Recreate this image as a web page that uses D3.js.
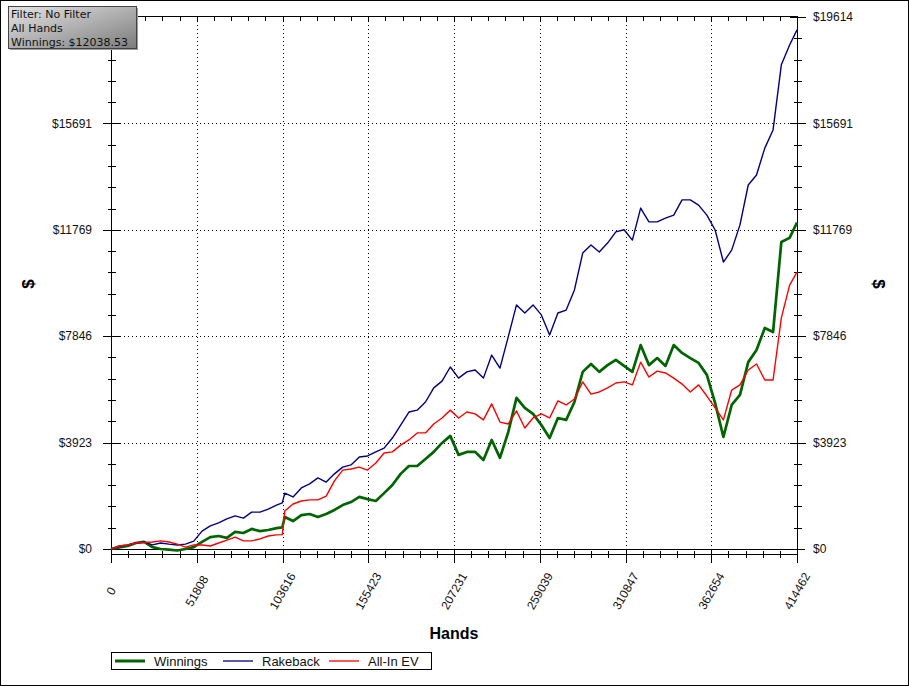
<!DOCTYPE html>
<html><head><meta charset="utf-8">
<script src="https://cdn.jsdelivr.net/npm/d3@7"></script>
<style>
html,body{margin:0;padding:0;background:#fff;}
svg{display:block;}
</style></head>
<body>
<svg id="chart" width="909" height="686"></svg>
<script>
// ---- data ----
const hands = [0,5000,10000,15000,20000,25000,30000,35000,40000,45000,
  50000,55000,60000,65000,70000,75000,80000,85000,90000,95000,
  100000,103500,105000,110000,115000,120000,125000,130000,135000,140000,145000,
  150000,155000,160000,165000,170000,175000,180000,185000,190000,195000,
  200000,205000,210000,215000,220000,225000,230000,235000,240000,245000,
  250000,255000,260000,265000,270000,275000,280000,285000,290000,295000,
  300000,305000,310000,315000,320000,325000,330000,335000,340000,345000,
  350000,355000,360000,365000,370000,375000,380000,385000,390000,395000,
  400000,405000,410000,414462];
const winnings = [0,55,110,220,260,70,0,-20,-55,0,
  70,260,440,480,410,630,590,740,660,700,
  770,800,1180,1030,1250,1290,1180,1290,1440,1620,1730,
  1920,1840,1770,2060,2360,2770,3060,3060,3320,3580,
  3910,4170,3470,3580,3580,3280,4020,3360,4310,5570,
  5200,4980,4570,4090,4830,4760,5420,6530,6820,6530,
  6780,6970,6750,6530,7520,6780,7040,6750,7520,7230,
  7040,6860,6420,5380,4130,5310,5680,6890,7340,8150,
  8000,11320,11470,12038.53];
const rakeback = [0,110,150,220,260,150,220,180,150,180,
  290,660,850,960,1110,1220,1140,1360,1360,1470,
  1620,1700,2060,1920,2250,2400,2620,2470,2770,3020,3100,
  3390,3430,3580,3720,4090,4570,5050,5120,5420,5940,
  6190,6710,6300,6530,6600,6300,7150,6670,7820,9000,
  8700,9000,8630,7890,8700,8810,9550,10910,11210,10950,
  11280,11690,11770,11390,12570,12060,12060,12200,12310,12870,
  12870,12680,12310,11760,10580,11020,11950,13420,13790,14780,
  15450,17850,18580,19140];
const allInEV = [0,110,150,220,240,260,300,260,180,70,
  150,150,110,220,330,440,300,300,370,480,
  520,530,1400,1660,1770,1810,1810,1950,2510,2910,2950,
  3020,2910,3170,3540,3580,3830,4020,4280,4280,4610,
  4830,5120,4830,5050,4980,4760,5350,4680,4610,5090,
  4460,4830,4980,4830,5460,5310,5530,6160,5710,5790,
  5940,6120,6160,6050,6890,6340,6560,6490,6300,6080,
  5790,6050,5640,5200,4760,5860,6050,6600,6820,6230,
  6230,8520,9730,10210];
const xTicks = [0,51808,103616,155423,207231,259039,310847,362654,414462];
const yTicks = [0,3923,7846,11769,15691,19614];
const seriesNames = ["Winnings","Rakeback","All-In EV"];
const infoLines = ["Filter: No Filter","All Hands","Winnings: $12038.53"];

// ---- drawing ----
const svg = d3.select("#chart");
const L = 111, R = 797, T = 17, B = 549;
const x = d3.scaleLinear().domain([0, 414462]).range([L, R]);
const y = d3.scaleLinear().domain([0, 19614]).range([B, T]);
const colors = ["#006400", "#000080", "#ff0000"];
const widths = [2.7, 1.4, 1.4];
const font = "'Liberation Sans', Arial, sans-serif";

// outer border
svg.append("rect").attr("x",0.5).attr("y",0.5).attr("width",908).attr("height",685)
  .attr("fill","#fff").attr("stroke","#000");

function minors(ticks){
  const out=[];
  for(let i=0;i<ticks.length-1;i++){
    for(let k=1;k<5;k++) out.push(ticks[i]+(ticks[i+1]-ticks[i])*k/5);
  }
  return out;
}
const xMinor = minors(xTicks), yMinor = minors(yTicks);

const g = svg.append("g").attr("shape-rendering","crispEdges");

// dotted grid
g.selectAll(".hg").data(yTicks.slice(1,-1)).join("line")
  .attr("x1",L+9).attr("x2",R-8).attr("y1",d=>Math.round(y(d))+0.5).attr("y2",d=>Math.round(y(d))+0.5)
  .attr("stroke","#000").attr("stroke-dasharray","1,3");
g.selectAll(".vg").data(xTicks.slice(1,-1)).join("line")
  .attr("x1",d=>Math.round(x(d))+0.5).attr("x2",d=>Math.round(x(d))+0.5).attr("y1",T+4).attr("y2",B-1)
  .attr("stroke","#000").attr("stroke-dasharray","1,3");

// top line + ticks
g.append("line").attr("x1",L).attr("x2",R).attr("y1",T-0.5).attr("y2",T-0.5).attr("stroke","#000");
g.selectAll(".tt").data(xMinor.concat(xTicks)).join("line")
  .attr("x1",d=>Math.round(x(d))+0.5).attr("x2",d=>Math.round(x(d))+0.5).attr("y1",T).attr("y2",T+4)
  .attr("stroke","#000");

// $0 line
g.append("line").attr("x1",L-8).attr("x2",R+8).attr("y1",B+0.5).attr("y2",B+0.5).attr("stroke","#000");
// bottom x axis line
g.append("line").attr("x1",L).attr("x2",R).attr("y1",B+5.5).attr("y2",B+5.5).attr("stroke","#000");
g.selectAll(".bm").data(xMinor).join("line")
  .attr("x1",d=>Math.round(x(d))+0.5).attr("x2",d=>Math.round(x(d))+0.5).attr("y1",B+2).attr("y2",B+9)
  .attr("stroke","#000");
g.selectAll(".bM").data(xTicks).join("line")
  .attr("x1",d=>Math.round(x(d))+0.5).attr("x2",d=>Math.round(x(d))+0.5).attr("y1",B).attr("y2",B+14)
  .attr("stroke","#000");

// left and right axis lines
[L, R].forEach(px=>{
  g.append("line").attr("x1",px+0.5).attr("x2",px+0.5).attr("y1",T-1).attr("y2",B+14).attr("stroke","#000");
});
// y ticks
g.selectAll(".lm").data(yMinor).join("line")
  .attr("x1",L-3).attr("x2",L+5).attr("y1",d=>Math.round(y(d))+0.5).attr("y2",d=>Math.round(y(d))+0.5).attr("stroke","#000");
g.selectAll(".lM").data(yTicks.slice(1)).join("line")
  .attr("x1",L-8).attr("x2",L+9).attr("y1",d=>Math.round(y(d))+0.5).attr("y2",d=>Math.round(y(d))+0.5).attr("stroke","#000");
g.selectAll(".rm").data(yMinor).join("line")
  .attr("x1",R-3).attr("x2",R+5).attr("y1",d=>Math.round(y(d))+0.5).attr("y2",d=>Math.round(y(d))+0.5).attr("stroke","#000");
g.selectAll(".rM").data(yTicks.slice(1)).join("line")
  .attr("x1",R-7).attr("x2",R+9).attr("y1",d=>Math.round(y(d))+0.5).attr("y2",d=>Math.round(y(d))+0.5).attr("stroke","#000");

// y labels (the top-left one is hidden under the info box in the reference)
const fmt = d => "$" + d;
svg.selectAll(".yl").data(yTicks.slice(0,-1)).join("text")
  .attr("x",L-19).attr("y",d=>y(d)).attr("dy","0.35em").attr("text-anchor","end")
  .attr("font-family",font).attr("font-size",12).attr("fill","#111").text(fmt);
svg.selectAll(".yr").data(yTicks).join("text")
  .attr("x",R+16).attr("y",d=>y(d)).attr("dy","0.35em").attr("text-anchor","start")
  .attr("font-family",font).attr("font-size",12).attr("fill","#111").text(fmt);

// x labels
svg.selectAll(".xl").data(xTicks).join("text")
  .attr("transform",d=>`translate(${x(d)},591) rotate(-60)`)
  .attr("dy","0.35em").attr("text-anchor","middle")
  .attr("font-family",font).attr("font-size",12).attr("fill","#111").text(d=>d);

// axis titles
svg.append("text").attr("x",(L+R)/2).attr("y",639).attr("text-anchor","middle")
  .attr("font-family",font).attr("font-size",16).attr("font-weight","bold").text("Hands");
svg.append("text").attr("transform","translate(28,284) rotate(-90)").attr("dy","0.35em")
  .attr("text-anchor","middle").attr("font-family",font).attr("font-size",17).attr("font-weight","bold").text("$");
svg.append("text").attr("transform","translate(879,284) rotate(90)").attr("dy","0.35em")
  .attr("text-anchor","middle").attr("font-family",font).attr("font-size",17).attr("font-weight","bold").text("$");

// series lines
const series = [winnings, rakeback, allInEV];
const line = d3.line().x((d,i)=>x(hands[i])).y(d=>y(d));
series.forEach((s,k)=>{
  svg.append("path").datum(s).attr("d",line).attr("fill","none")
    .attr("stroke",colors[k]).attr("stroke-width",widths[k]).attr("stroke-linejoin","round");
});

// legend
const lg = svg.append("g");
lg.append("rect").attr("x",111.5).attr("y",652.5).attr("width",320).attr("height",17)
  .attr("fill","#fff").attr("stroke","#000").attr("shape-rendering","crispEdges");
const legX = [115, 223, 329];
seriesNames.forEach((n,k)=>{
  lg.append("line").attr("x1",legX[k]).attr("x2",legX[k]+30).attr("y1",661).attr("y2",661)
    .attr("stroke",colors[k]).attr("stroke-width",k===0?3:1.3);
  lg.append("text").attr("x",legX[k]+39).attr("y",661).attr("dy","0.36em")
    .attr("font-family",font).attr("font-size",13).attr("fill","#111").text(n);
});

// info box
const defs = svg.append("defs");
const grad = defs.append("linearGradient").attr("id","boxg").attr("x1","0").attr("y1","0").attr("x2","1").attr("y2","1");
grad.append("stop").attr("offset","0%").attr("stop-color","#e4e4e4");
grad.append("stop").attr("offset","100%").attr("stop-color","#7c7c7c");
svg.append("rect").attr("x",10).attr("y",8).attr("width",128).attr("height",42).attr("fill","#9a9a9a");
svg.append("rect").attr("x",8.5).attr("y",6.5).attr("width",128).attr("height",42)
  .attr("fill","url(#boxg)").attr("stroke","#444");
svg.selectAll(".info").data(infoLines).join("text")
  .attr("x",11).attr("y",(d,i)=>18.3+i*13.6)
  .attr("font-family","'DejaVu Sans', Verdana, sans-serif").attr("font-size",11).attr("fill","#111")
  .text(d=>d);
</script>
</body></html>
